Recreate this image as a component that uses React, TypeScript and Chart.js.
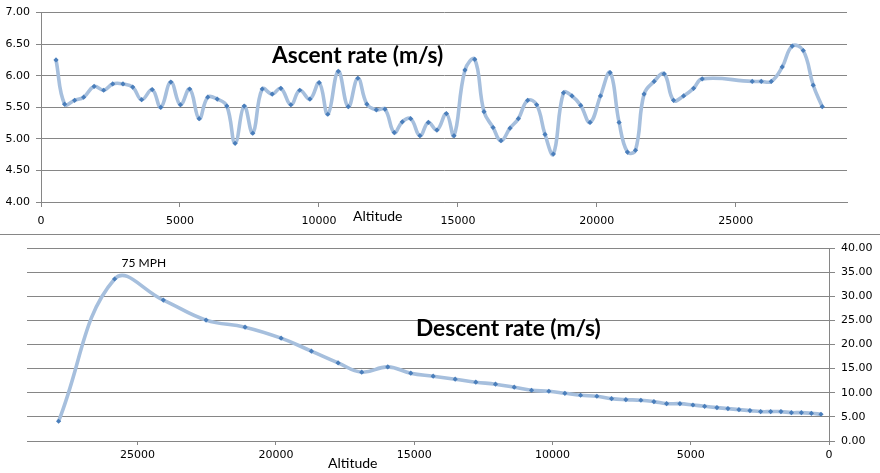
import React, { useEffect, useRef } from "react";
import { Chart, registerables } from "chart.js";

Chart.register(...registerables);

// ---------- data ----------
const ascentAltitude = [
  540, 850, 1210, 1535, 1910, 2255, 2580, 2950, 3300, 3620, 4000, 4310, 4670, 5015, 5350, 5690, 6000, 6340,
  6685, 6985, 7310, 7620, 7960, 8320, 8630, 8990, 9310, 9675, 10010, 10320, 10695, 11055, 11400, 11725, 12065,
  12375, 12710, 13000, 13300, 13635, 13935, 14245, 14585, 14860, 15255, 15605, 15940, 16265, 16550, 16875,
  17175, 17510, 17835, 18135, 18435, 18800, 19105, 19420, 19755, 20130, 20475, 20800, 21100, 21390, 21700,
  22060, 22420, 22760, 23120, 23480, 23790, 25590, 25915, 26275, 26670, 27030, 27425, 27785, 28110,
];
const ascentRate = [
  6.25, 5.55, 5.61, 5.66, 5.83, 5.77, 5.87, 5.87, 5.82, 5.62, 5.78, 5.5, 5.9, 5.54, 5.79, 5.32, 5.66, 5.63,
  5.52, 4.93, 5.52, 5.09, 5.79, 5.71, 5.8, 5.54, 5.77, 5.63, 5.89, 5.39, 6.07, 5.51, 5.96, 5.55, 5.46,
  5.47, 5.1, 5.27, 5.32, 5.05, 5.26, 5.14, 5.4, 5.05, 6.09, 6.26, 5.43, 5.18, 4.97, 5.17,
  5.32, 5.61, 5.54, 5.07, 4.76, 5.73, 5.68, 5.53, 5.26, 5.68, 6.05, 5.26, 4.79, 4.82, 5.71,
  5.91, 6.03, 5.61, 5.68, 5.8, 5.95, 5.91, 5.91, 5.91, 6.14, 6.47, 6.4, 5.85, 5.51,
];
const descentAltitude = [
  27858, 25832, 24070, 22525, 21115, 19812, 18716, 17750, 16896, 15955, 15123, 14313, 13517, 12771, 12059,
  11382, 10756, 10130, 9551, 8983, 8394, 7862, 7344, 6802, 6331, 5872, 5391, 4920, 4497, 4052, 3654, 3256,
  2858, 2471, 2109, 1737, 1360, 999, 637, 289,
];
const descentRate = [
  4.09, 33.57, 29.2, 25.06, 23.6, 21.32, 18.62, 16.19, 14.26, 15.36, 14.05, 13.43, 12.81, 12.19, 11.77,
  11.15, 10.52, 10.31, 9.89, 9.48, 9.27, 8.78, 8.57, 8.45, 8.16, 7.74, 7.74, 7.46, 7.19, 6.92, 6.71, 6.5,
  6.3, 6.09, 6.09, 6.09, 5.88, 5.88, 5.74, 5.54,
];
const altitudeTicks = [0, 5000, 10000, 15000, 20000, 25000];
const ascentTicks = [4, 4.5, 5, 5.5, 6, 6.5, 7];
const descentTicks = [0, 5, 10, 15, 20, 25, 30, 35, 40];
const ascentTitle = "Ascent rate (m/s)";
const descentTitle = "Descent rate (m/s)";
const xTitle = "Altitude";
const peakLabel = "75 MPH";
const peakIndex = 1;

// ---------- styles ----------
const GRID = "#868686";
const LINE = "#a6bfdd";
const MARK = "#4a7ebb";
const TICK_FONT = { family: "DejaVu Sans", size: 11 };
const TEXT_FAMILY = "Lato, 'Liberation Sans', sans-serif";

function dataset(xs: number[], ys: number[]) {
  return {
    data: xs.map((x, i) => ({ x, y: ys[i] })),
    borderColor: LINE,
    borderWidth: 3.6,
    tension: 0.42,
    fill: false,
    pointStyle: "rectRot" as const,
    pointRadius: 2.6,
    pointBackgroundColor: MARK,
    pointBorderColor: MARK,
    pointBorderWidth: 0,
    clip: false as const,
  };
}

export default function App() {
  const topRef = useRef<HTMLCanvasElement | null>(null);
  const botRef = useRef<HTMLCanvasElement | null>(null);

  useEffect(() => {
    const topText = {
      id: "topText",
      afterDraw(chart: any) {
        const ctx = chart.ctx;
        ctx.save();
        ctx.fillStyle = "#000";
        ctx.textBaseline = "alphabetic";
        ctx.textAlign = "left";
        ctx.font = `bold 22.7px ${TEXT_FAMILY}`;
        ctx.fillText(ascentTitle, 272, 63);
        ctx.font = `14px ${TEXT_FAMILY}`;
        ctx.fillText(xTitle, 353, 221);
        ctx.restore();
      },
    };
    const botText = {
      id: "botText",
      afterDraw(chart: any) {
        const ctx = chart.ctx;
        ctx.save();
        ctx.fillStyle = "#000";
        ctx.textBaseline = "alphabetic";
        ctx.textAlign = "left";
        ctx.font = `bold 22.7px ${TEXT_FAMILY}`;
        ctx.fillText(descentTitle, 416, 101);
        ctx.font = `14px ${TEXT_FAMILY}`;
        ctx.fillText(xTitle, 328, 233);
        const pt = chart.getDatasetMeta(0).data[peakIndex];
        ctx.font = `12px ${TEXT_FAMILY}`;
        ctx.fillText(peakLabel, pt.x + 7, pt.y - 12);
        ctx.restore();
      },
    };

    const top = new Chart(topRef.current as HTMLCanvasElement, {
      type: "line",
      data: { datasets: [dataset(ascentAltitude, ascentRate) as any] },
      options: {
        animation: false,
        responsive: false,
        maintainAspectRatio: false,
        layout: { padding: { top: 11, right: 33, left: 0, bottom: 0 } },
        plugins: { legend: { display: false }, tooltip: { enabled: false } },
        scales: {
          x: {
            type: "linear",
            min: 0,
            max: 29000,
            afterBuildTicks: (s: any) => {
              s.ticks = altitudeTicks.map((v) => ({ value: v }));
            },
            afterFit: (s: any) => {
              s.height = 30;
            },
            grid: { drawOnChartArea: false, tickLength: 5, color: GRID },
            border: { color: GRID },
            ticks: { font: TICK_FONT, color: "#000", maxRotation: 0, padding: 8, callback: (v: any) => String(v) },
          },
          y: {
            type: "linear",
            min: 4,
            max: 7,
            afterBuildTicks: (s: any) => {
              s.ticks = ascentTicks.map((v) => ({ value: v }));
            },
            afterFit: (s: any) => {
              s.width = 41;
            },
            grid: { color: GRID, tickLength: 5 },
            border: { color: GRID },
            ticks: { font: TICK_FONT, color: "#000", padding: 6, callback: (v: any) => Number(v).toFixed(2) },
          },
        },
      },
      plugins: [topText],
    });

    const bot = new Chart(botRef.current as HTMLCanvasElement, {
      type: "line",
      data: { datasets: [dataset(descentAltitude, descentRate) as any] },
      options: {
        animation: false,
        responsive: false,
        maintainAspectRatio: false,
        layout: { padding: { top: 13, right: 0, left: 27, bottom: 0 } },
        plugins: { legend: { display: false }, tooltip: { enabled: false } },
        scales: {
          x: {
            type: "linear",
            reverse: true,
            min: 0,
            max: 29000,
            afterBuildTicks: (s: any) => {
              s.ticks = altitudeTicks.map((v) => ({ value: v }));
            },
            afterFit: (s: any) => {
              s.height = 32;
            },
            grid: { drawOnChartArea: false, tickLength: 4, color: GRID },
            border: { color: GRID },
            ticks: { font: TICK_FONT, color: "#000", maxRotation: 0, padding: 4, callback: (v: any) => String(v) },
          },
          y: {
            type: "linear",
            position: "right",
            min: 0,
            max: 40,
            afterBuildTicks: (s: any) => {
              s.ticks = descentTicks.map((v) => ({ value: v }));
            },
            afterFit: (s: any) => {
              s.width = 51;
            },
            grid: { color: GRID, tickLength: 6 },
            border: { color: GRID },
            ticks: { font: TICK_FONT, color: "#000", padding: 6, callback: (v: any) => Number(v).toFixed(2) },
          },
        },
      },
      plugins: [botText],
    });

    return () => {
      top.destroy();
      bot.destroy();
    };
  }, []);

  return (
    <div style={{ position: "fixed", left: 0, top: 0, width: 880, height: 473, background: "#fff", overflow: "hidden" }}>
      <canvas ref={topRef} width={880} height={232} style={{ position: "absolute", left: 0, top: 0, width: 880, height: 232 }} />
      <div style={{ position: "absolute", left: 0, top: 234, width: 880, height: 0, borderTop: `1px solid ${GRID}` }} />
      <canvas ref={botRef} width={880} height={238} style={{ position: "absolute", left: 0, top: 235, width: 880, height: 238 }} />
    </div>
  );
}
